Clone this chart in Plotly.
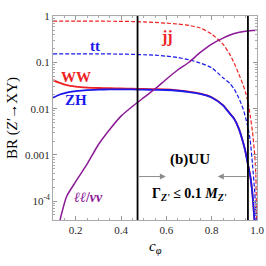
import math
import plotly.graph_objects as go

# ---- data (BR vs c_phi) ----
c_jj = [0.1, 0.2, 0.3, 0.4, 0.45, 0.5, 0.55, 0.6, 0.65, 0.7, 0.75, 0.8, 0.85, 0.88, 0.9, 0.92, 0.94, 0.95, 0.96, 0.97, 0.98, 0.99, 0.995, 0.998]
br_jj = [0.79, 0.79, 0.79, 0.785, 0.776, 0.762, 0.741, 0.716, 0.684, 0.638, 0.562, 0.417, 0.251, 0.151, 0.0955, 0.0562, 0.0316, 0.0224, 0.0141, 0.00708, 0.00316, 0.001, 0.000355, 0.00004]

c_tt = [0.1, 0.2, 0.3, 0.4, 0.45, 0.5, 0.55, 0.6, 0.65, 0.7, 0.75, 0.8, 0.85, 0.88, 0.9, 0.92, 0.94, 0.95, 0.96, 0.97, 0.98, 0.99, 0.995, 0.997]
br_tt = [0.155, 0.155, 0.155, 0.153, 0.151, 0.148, 0.145, 0.138, 0.129, 0.115, 0.0977, 0.0776, 0.0468, 0.0355, 0.0263, 0.017, 0.00955, 0.0063, 0.00398, 0.00209, 0.00063, 0.000158, 0.00005, 0.000025]

c_vv = [0.1, 0.13, 0.16, 0.2, 0.25, 0.3, 0.35, 0.4, 0.45, 0.5, 0.55, 0.6, 0.65, 0.7, 0.75, 0.8, 0.85, 0.88, 0.9, 0.92, 0.94, 0.95, 0.96, 0.97, 0.98, 0.99]
br_ww = [0.0417, 0.0363, 0.0324, 0.0302, 0.0288, 0.0282, 0.0279, 0.0275, 0.0272, 0.0269, 0.0266, 0.0263, 0.0251, 0.0234, 0.0214, 0.0178, 0.012, 0.00794, 0.00603, 0.00372, 0.00178, 0.00112, 0.00063, 0.000355, 0.000141, 0.0000316]
br_zh = [0.0174, 0.0204, 0.0224, 0.024, 0.0254, 0.026, 0.0263, 0.0263, 0.0262, 0.026, 0.0257, 0.0255, 0.0246, 0.023, 0.021, 0.0176, 0.0118, 0.00785, 0.00596, 0.00368, 0.00176, 0.00111, 0.00062, 0.00035, 0.00014, 0.0000316]

c_ll = [0.131, 0.16, 0.2, 0.25, 0.3, 0.35, 0.4, 0.45, 0.5, 0.55, 0.6, 0.65, 0.7, 0.75, 0.8, 0.85, 0.9, 0.95, 1.0]
br_ll = [0.0000389, 0.000126, 0.000263, 0.000631, 0.00166, 0.00355, 0.00692, 0.0112, 0.0174, 0.0269, 0.0437, 0.0692, 0.102, 0.166, 0.251, 0.339, 0.427, 0.479, 0.5]

width_lines = [0.473, 0.96]
arrow_y = 0.00034
x_ticks = [0.2, 0.4, 0.6, 0.8, 1.0]
x_tick_text = ["0.2", "0.4", "0.6", "0.8", "1.0"]
y_ticks = [1e-4, 1e-3, 1e-2, 1e-1, 1]
y_tick_text = ["10<sup>-4</sup>", "0.001", "0.01", "0.1", "1"]

RED = "rgb(238,34,34)"
BLUE = "rgb(25,25,235)"
PURPLE = "rgb(140,25,150)"
SERIF = "Liberation Serif"

fig = go.Figure()
fig.add_trace(go.Scatter(x=c_jj, y=br_jj, mode="lines", line=dict(color=RED, width=1.2, dash="4px,2px", shape="spline", smoothing=0.6), name="jj"))
fig.add_trace(go.Scatter(x=c_tt, y=br_tt, mode="lines", line=dict(color=BLUE, width=1.2, dash="4px,2px", shape="spline", smoothing=0.6), name="tt"))
fig.add_trace(go.Scatter(x=c_vv, y=br_ww, mode="lines", line=dict(color=RED, width=1.8, shape="spline", smoothing=0.6), name="WW"))
fig.add_trace(go.Scatter(x=c_vv, y=br_zh, mode="lines", line=dict(color=BLUE, width=1.8, shape="spline", smoothing=0.6), name="ZH"))
fig.add_trace(go.Scatter(x=c_ll, y=br_ll, mode="lines", line=dict(color=PURPLE, width=1.5, shape="spline", smoothing=0.6), name="ll"))

for xv in width_lines:
    fig.add_shape(type="line", xref="x", yref="paper", x0=xv, x1=xv, y0=0, y1=1, line=dict(color="black", width=1.8))

# arrows (annotation y on a log axis is given in log10 units)
ly = math.log10(arrow_y)
fig.add_annotation(x=0.598, y=ly, ax=width_lines[0], ay=ly, xref="x", yref="y", axref="x", ayref="y",
                   showarrow=True, arrowhead=2, arrowsize=1.2, arrowwidth=1, arrowcolor="rgb(140,140,140)", text="")
fig.add_annotation(x=0.827, y=ly, ax=width_lines[1], ay=ly, xref="x", yref="y", axref="x", ayref="y",
                   showarrow=True, arrowhead=2, arrowsize=1.2, arrowwidth=1, arrowcolor="rgb(140,140,140)", text="")

labels = [
    (0.602, 0.352, "<b>jj</b>", RED, 16),
    (0.285, 0.225, "<b>tt</b>", BLUE, 15),
    (0.201, 0.048, "<b>WW</b>", RED, 15),
    (0.201, 0.0153, "<b>ZH</b>", BLUE, 15),
    (0.703, 0.00081, "<b>(b)UU</b>", "black", 15),
    (0.257, 0.00012, "<b><i>ℓℓ</i>/<i>νν</i></b>", PURPLE, 14),
    (0.703, 0.00014, "<b>Γ<sub><i>Z'</i></sub> ≤ 0.1 <i>M</i><sub><i>Z'</i></sub></b>", "black", 14),
]
for x, y, t, col, sz in labels:
    fig.add_annotation(x=x, y=math.log10(y), xref="x", yref="y", text=t, showarrow=False,
                       font=dict(family=SERIF, size=sz, color=col))

# axis titles
fig.add_annotation(x=0.5, y=-0.132, xref="paper", yref="paper", text="<i>c</i><sub><i>φ</i></sub>",
                   showarrow=False, xanchor="center", yanchor="middle",
                   font=dict(family=SERIF, size=15, color="black"))
fig.add_annotation(x=-0.201, y=0.5, xref="paper", yref="paper", text="BR (<i>Z'</i>→XY)", textangle=-90,
                   showarrow=False, xanchor="center", yanchor="middle",
                   font=dict(family=SERIF, size=15, color="black"))

fig.update_layout(
    width=266, height=266, autosize=False,
    margin=dict(l=53, r=9, t=16, b=46),
    plot_bgcolor="white", paper_bgcolor="white",
    showlegend=False,
    font=dict(family=SERIF, size=11, color="rgb(40,40,40)"),
    xaxis=dict(range=[0.1, 1.0], tickmode="array", tickvals=x_ticks, ticktext=x_tick_text,
               ticks="inside", ticklen=4, tickcolor="rgb(150,150,150)", automargin=False,
               showline=True, linecolor="rgb(170,170,170)", linewidth=1, mirror="allticks",
               showgrid=False, zeroline=False,
               minor=dict(tickmode="array", tickvals=[0.1, 0.15, 0.25, 0.3, 0.35, 0.45, 0.5, 0.55, 0.65, 0.7, 0.75, 0.85, 0.9, 0.95],
                          ticks="inside", ticklen=2, tickcolor="rgb(170,170,170)", showgrid=False)),
    yaxis=dict(type="log", range=[-4.41, 0.01], tickmode="array", tickvals=y_ticks, ticktext=y_tick_text,
               ticks="inside", ticklen=4, tickcolor="rgb(150,150,150)", automargin=False,
               showline=True, linecolor="rgb(170,170,170)", linewidth=1, mirror="allticks",
               showgrid=False, zeroline=False,
               minor=dict(tickmode="array",
                          tickvals=[m * 10 ** e for e in range(-5, 0) for m in range(2, 10)],
                          ticks="inside", ticklen=2, tickcolor="rgb(170,170,170)", showgrid=False)),
)

fig.write_html("out.html", config={"displayModeBar": False},
               post_script="document.body.style.margin='0';document.body.style.overflow='hidden';")
